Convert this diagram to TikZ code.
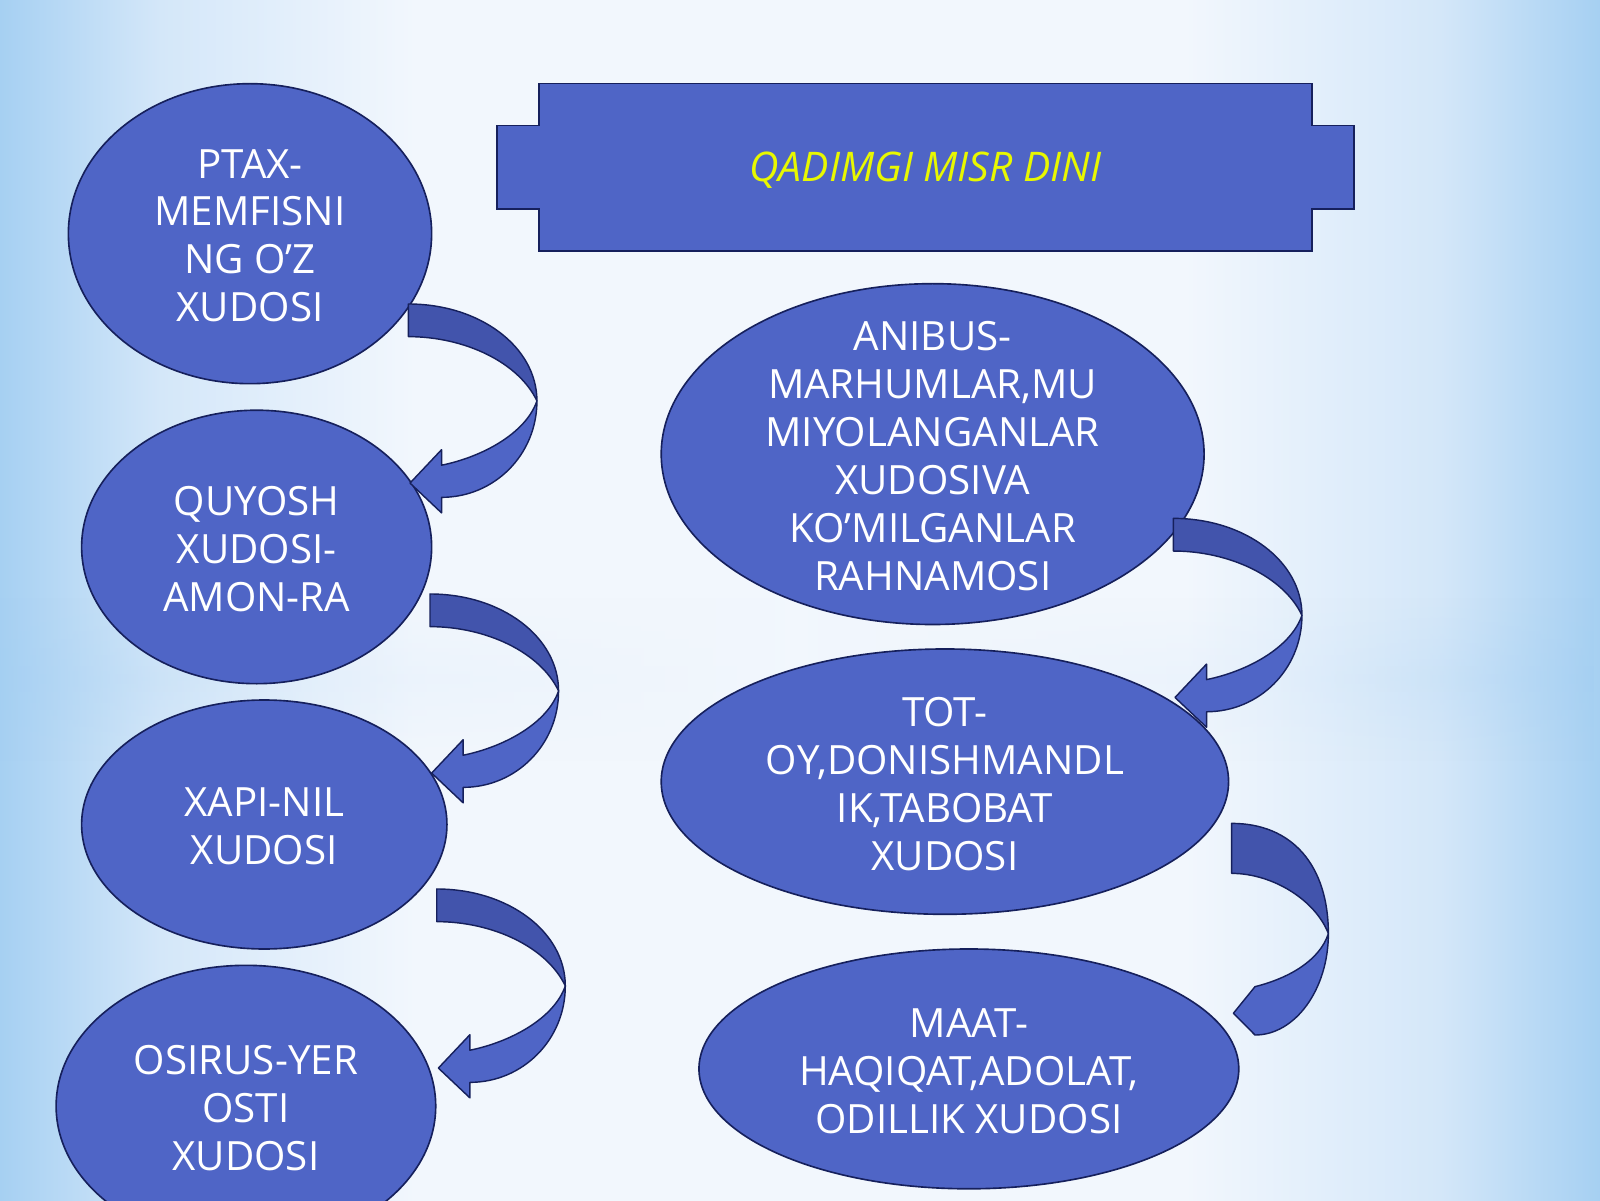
\documentclass[tikz,border=0pt]{standalone}
\usepackage{fontspec}
\setmainfont{Open Sans}
\usetikzlibrary{shapes.geometric,fadings}

\definecolor{godblue}{RGB}{79,101,198}
\definecolor{godback}{RGB}{66,84,172}
\definecolor{godline}{RGB}{22,32,92}
\definecolor{titleyellow}{RGB}{232,248,0}
\definecolor{skyedge}{RGB}{166,208,242}
\definecolor{skymid}{RGB}{212,231,249}
\definecolor{skywhite}{RGB}{242,247,253}
\definecolor{bandedge}{RGB}{162,206,242}
\definecolor{bandmid}{RGB}{222,236,250}

\pgfdeclarehorizontalshading{skyx}{100bp}{color(0bp)=(skyedge); color(25bp)=(skyedge);
  color(30bp)=(skymid); color(38bp)=(skywhite); color(62bp)=(skywhite);
  color(70bp)=(skymid); color(75bp)=(skyedge); color(100bp)=(skyedge)}
\pgfdeclarehorizontalshading{skyband}{100bp}{color(0bp)=(bandedge); color(25bp)=(bandedge);
  color(35bp)=(bandmid); color(50bp)=(skywhite); color(65bp)=(bandmid);
  color(75bp)=(bandedge); color(100bp)=(bandedge)}
\tikzfading[name=bandfade, top color=transparent!100, bottom color=transparent!100,
  middle color=transparent!60]

\tikzset{
  godshape/.style={ellipse, draw=godline, fill=godblue, line width=1.6pt, inner sep=0pt},
  godtext/.style={text=white, align=center, inner sep=0pt, yshift=-2pt,
    font=\fontsize{39.5}{47}\selectfont},
  arrowfront/.style={fill=godblue, draw=godline, line width=1.4pt, line join=round},
  arrowback/.style={fill=godback, draw=godline, line width=1.4pt, line join=round}
}

% curved block arrow, (#1,#2) = top left corner of its tail
\newcommand\bentarrow[2]{%
  \begin{scope}[shift={(#1,#2)}]
    \filldraw[arrowback] (0,0) .. controls (70,0) and (126,42) .. (126,95)
      .. controls (108,57) and (55,32) .. (0,32) -- cycle;
    \filldraw[arrowfront] (126,95) .. controls (126,148) and (84,189.5) .. (32.5,189.5)
      -- (32.5,204.7) -- (1.6,175.5) -- (32.5,142.8) -- (32.5,158)
      .. controls (72,150) and (115,127) .. (126,95) -- cycle;
  \end{scope}}

\begin{document}
\begin{tikzpicture}[x=1pt,y=-1pt]
  \useasboundingbox (0,0) rectangle (1568,1176);
  \clip (0,0) rectangle (1568,1176);
  \shade[shading=skyx] (0,0) rectangle (1568,1176);
  \shade[shading=skyband, path fading=bandfade] (0,585) rectangle (1568,745);

  % title
  \filldraw[fill=godblue, draw=godline, line width=1.6pt]
    (528,82) -- (1286,82) -- (1286,123) -- (1327,123) -- (1327,205) -- (1286,205)
    -- (1286,246) -- (528,246) -- (528,205) -- (487,205) -- (487,123) -- (528,123) -- cycle;
  \node[text=titleyellow, inner sep=0pt, font=\itshape\fontsize{40}{48}\selectfont]
    (title) at (907,167) {QADIMGI MISR DINI};

  % left column
  \node[godshape, minimum width=356pt, minimum height=294pt] (ptax) at (245,229) {};
  \node[godtext] (ptax-t) at (ptax) {PTAX-\\MEMFISNI\\NG O’Z\\XUDOSI};
  \node[godshape, minimum width=343pt, minimum height=268pt] (quyosh) at (251.5,536) {};
  \node[godtext] (quyosh-t) at (quyosh) {QUYOSH\\XUDOSI-\\AMON-RA};
  \node[godshape, minimum width=358pt, minimum height=244pt] (xapi) at (259,808) {};
  \node[godtext] (xapi-t) at (xapi) {XAPI-NIL\\XUDOSI};
  \node[godshape, minimum width=372pt, minimum height=276pt] (osirus) at (241,1084) {};
  \node[godtext] (osirus-t) at (osirus) {OSIRUS-YER\\OSTI\\XUDOSI};

  % right column
  \node[godshape, minimum width=532pt, minimum height=334pt] (anibus) at (914,445) {};
  \node[godtext] (anibus-t) at (anibus)
    {ANIBUS-\\MARHUMLAR,MU\\MIYOLANGANLAR\\XUDOSIVA\\KO’MILGANLAR\\RAHNAMOSI};
  \node[godshape, minimum width=556pt, minimum height=260pt] (tot) at (926,766) {};
  \node[godtext] (tot-t) at (tot) {TOT-\\OY,DONISHMANDL\\IK,TABOBAT\\XUDOSI};
  \node[godshape, minimum width=529pt, minimum height=235pt] (maat) at (949.5,1047.5) {};
  \node[godtext] (maat-t) at (maat) {MAAT-\\HAQIQAT,ADOLAT,\\ODILLIK XUDOSI};

  % arrows
  \foreach \x/\y in {400.2/297.9, 421.4/582.1, 428/871.2, 1149.9/508}
    \bentarrow{\x}{\y};
  \begin{scope}[shift={(1207,806.9)}]
    \filldraw[arrowback] (0,0) .. controls (60,0) and (94.8,42) .. (94.8,108)
      .. controls (82,75) and (40,49) .. (0,49) -- cycle;
    \filldraw[arrowfront] (94.8,108) .. controls (94.8,163) and (62,207.4) .. (22.9,207.4)
      -- (1.7,186.1) -- (22.9,160)
      .. controls (55,152) and (86,135) .. (94.8,108) -- cycle;
  \end{scope}
\end{tikzpicture}
\end{document}
